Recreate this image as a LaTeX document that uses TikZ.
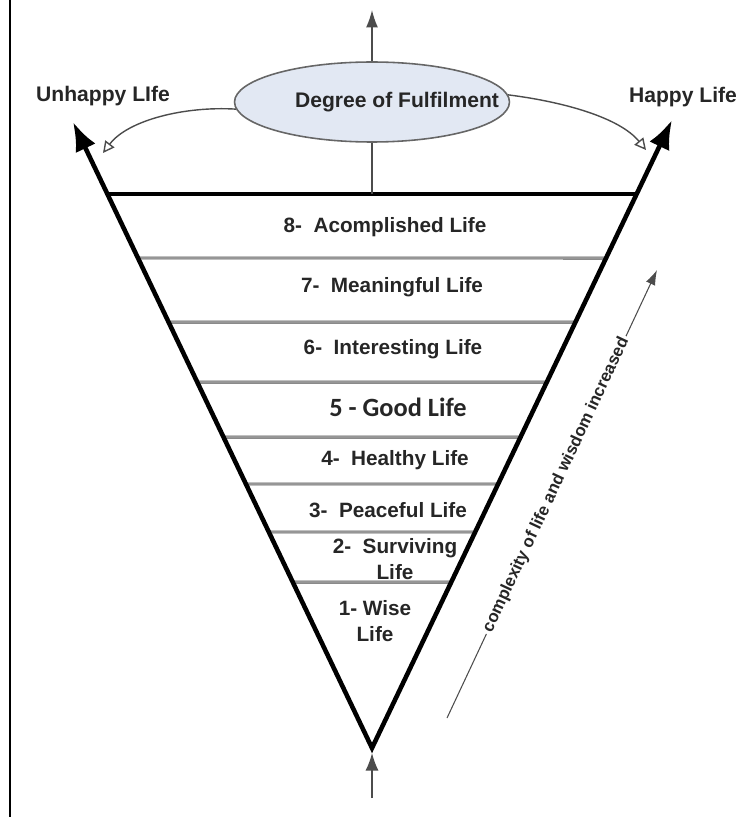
\documentclass[tikz,border=0pt]{standalone}
\usepackage{fontspec}
\setmainfont{Liberation Sans}
\newfontfamily\goodfont{Carlito}
\usetikzlibrary{arrows.meta,calc,positioning,shapes.geometric}
\definecolor{ellfill}{RGB}{226,232,243}
\colorlet{thinline}{black!70}

\begin{document}
\begin{tikzpicture}[
x=0.02cm, y=-0.02cm,
VLine/.style={line width=2.6pt, line join=miter, {Latex[length=5.8mm,width=4.4mm]}-{Latex[length=5.8mm,width=4.4mm]}},
Layer/.style={draw=black!70, double=black!25, line width=0.5pt, double distance=0.7pt},
LayerText/.style={font=\bfseries\fontsize{11.8}{14.5}\selectfont, align=center, inner sep=0pt},
Thin/.style={draw=thinline, line width=0.8pt},
SideLabel/.style={font=\bfseries\fontsize{12}{14}\selectfont, inner sep=0pt},
every node/.style={text=black!85}
]
\useasboundingbox (0,0) rectangle (750,817);

% frame line on the left
\coordinate (frameTop) at (10,0);
\coordinate (frameBot) at (10,817);
\draw[line width=0.8pt] (frameTop) -- (frameBot);

% the big V
\coordinate (apex) at (372,748);
\coordinate (ltip) at (73,122);
\coordinate (rtip) at (672,120);
\coordinate (topMid) at (372,194);
\coordinate (skyTop) at (372,10);
\coordinate (rootBot) at (372,798);
\coordinate (rootTop) at (372,753);

% layers
\foreach \y in {258,322,382,437,484,532,582}{
\draw[Layer] ($(apex)!{(748-\y)/626}!(ltip)$) -- ($(apex)!{(748-\y)/628}!(rtip)$);
}
\draw[line width=2.2pt] ($(apex)!{554/626}!(ltip)$) coordinate (topL) -- ($(apex)!{554/628}!(rtip)$) coordinate (topR);

\draw[VLine] (ltip) -- (apex) -- (rtip);

\node[LayerText] (l8) at (385,227) {8-\ \ Acomplished Life};
\node[LayerText] (l7) at (392,287) {7-\ \ Meaningful Life};
\node[LayerText] (l6) at (393,349) {6-\ \ Interesting Life};
\node[LayerText, font=\goodfont\bfseries\fontsize{15}{17}\selectfont] (l5) at (398,407) {5 - Good Life};
\node[LayerText] (l4) at (395,460) {4-\ \ Healthy Life};
\node[LayerText] (l3) at (388,510) {3-\ \ Peaceful Life};
\node[LayerText] (l2) at (395,559) {2-\ \ Surviving\\Life};
\node[LayerText] (l1) at (375,621) {1- Wise\\Life};

% top part
\node[ellipse, draw=black!60, fill=ellfill, line width=0.9pt, minimum width=5.5cm, minimum height=1.6cm, inner sep=0pt] (ell) at (372,102) {};
\node[SideLabel] (fulfil) at (397,102) {Degree of Fulfilment};
\node[SideLabel] (unhappy) at (103,96) {Unhappy LIfe};
\node[SideLabel] (happy) at (683,97) {Happy Life};

\draw[Thin] (ell.south) -- (topMid);
\draw[Thin, -{Latex[length=3.5mm,width=2.4mm]}] (ell.north) -- (skyTop);
\draw[Thin, -{Latex[length=3.5mm,width=2.6mm]}] (rootBot) -- (rootTop);

\coordinate (lend) at (103,153);
\coordinate (rend) at (646,150);
\draw[Thin, -{Triangle[length=2.3mm,width=2.3mm,fill=white]}] (ell.183) .. controls (185,106) and (128,120) .. (lend);
\draw[Thin, -{Triangle[length=2.3mm,width=2.3mm,fill=white]}] (ell.3) .. controls (565,102) and (620,118) .. (rend);

% complexity arrow
\coordinate (cStart) at (447,718);
\coordinate (cEnd) at (657,270);
\draw[draw=black!70, line width=0.6pt, -{Latex[length=3mm,width=2mm]}] (cStart) -- node[sloped, pos=0.52, fill=white, inner sep=1.5pt, font=\bfseries\fontsize{9.6}{11}\selectfont] (cLabel) {complexity of life and wisdom increased} (cEnd);

\end{tikzpicture}
\end{document}
